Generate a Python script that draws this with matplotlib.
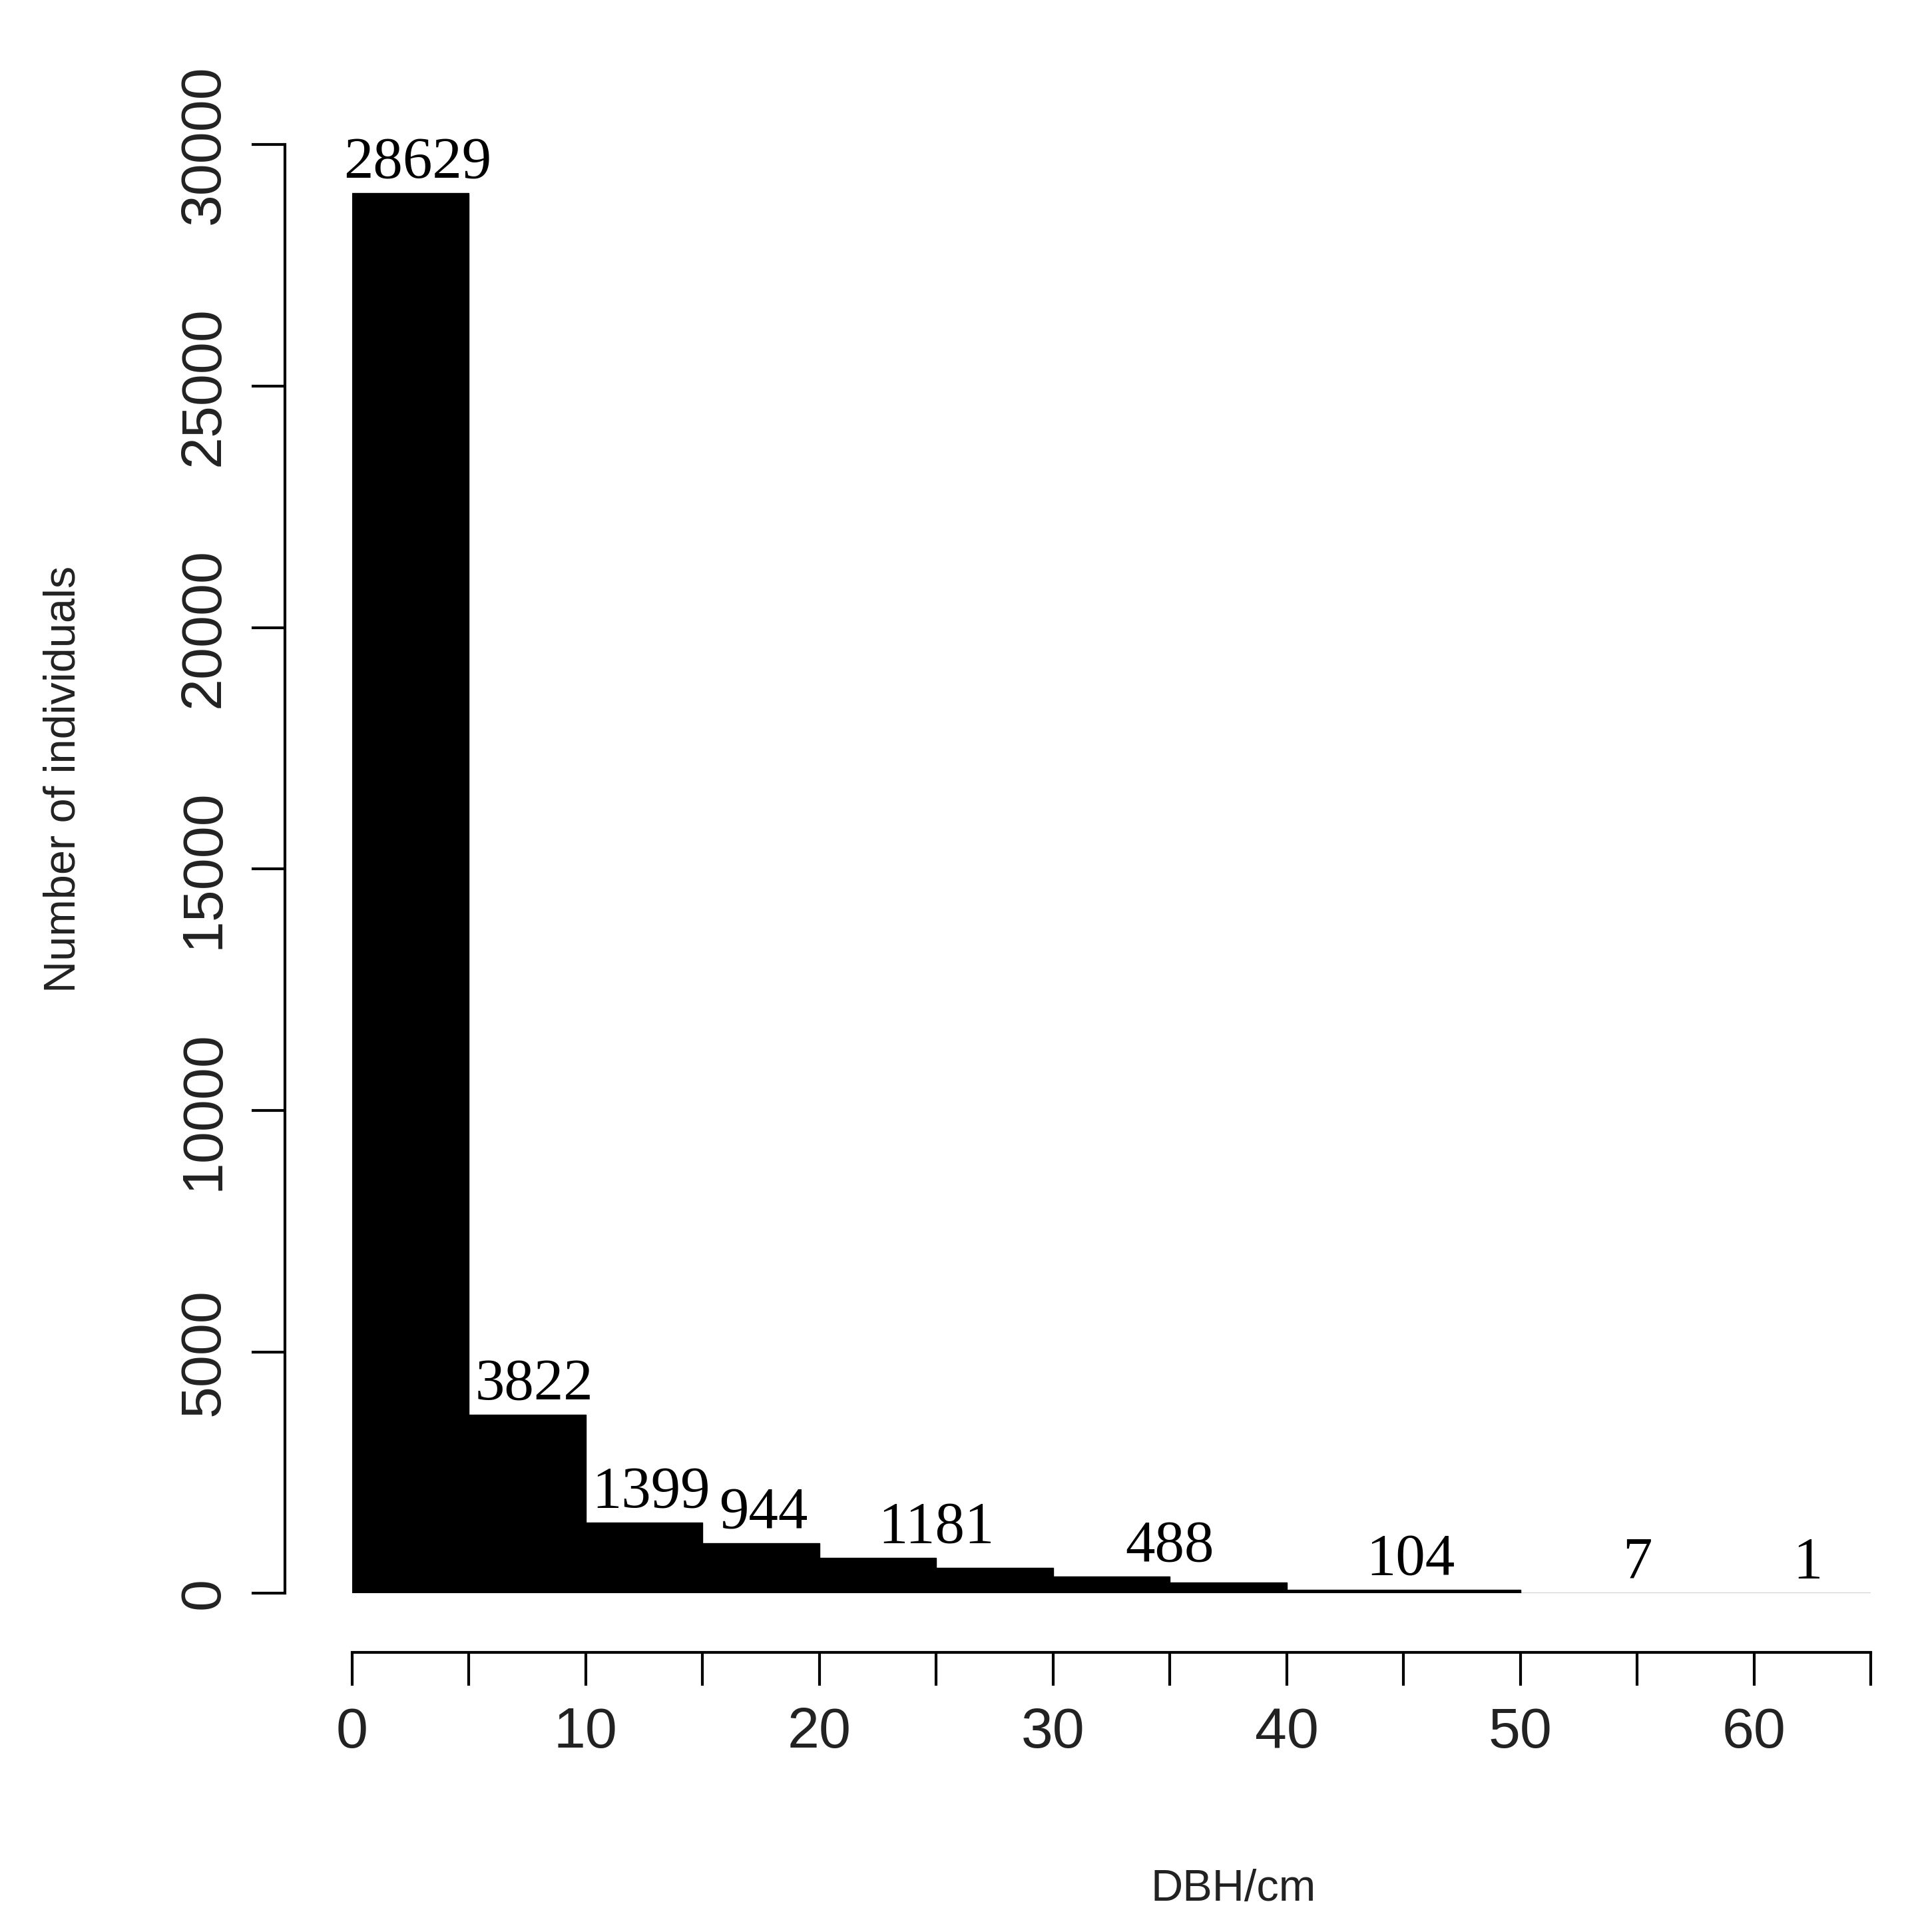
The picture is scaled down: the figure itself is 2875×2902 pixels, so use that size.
import matplotlib
matplotlib.use("Agg")
import matplotlib.pyplot as plt
import numpy as np

bin_edges = [0, 5, 10, 15, 20, 25, 30, 35, 40, 45, 50, 55, 60, 65]
heights = [29000, 3700, 1470, 1040, 740, 530, 355, 230, 80, 75, 10, 5, 3]
label_texts = ["28629", "3822", "1399", "944", "1181", "488", "104", "7", "1"]
label_x = [2.8, 7.8, 12.8, 17.6, 25.0, 35.0, 45.3, 55.0, 62.3]
label_y = [29000, 3700, 1470, 1040, 740, 355, 75, 5, 3]

W, H = 2875, 2902
fig = plt.figure(figsize=(W/100, H/100), dpi=100)
ax = fig.add_axes([287/1560, 1-1299/1575, (1525-287)/1560, (1299-118)/1575])
ax.bar(bin_edges[:-1], heights, width=np.diff(bin_edges), align='edge', color='black', edgecolor='black', linewidth=1)
for t, x, y in zip(label_texts, label_x, label_y):
    ax.text(x, y + 60, t, ha='center', va='bottom', family='Liberation Serif', fontsize=64)
ax.set_xlim(0, 65)
ax.set_ylim(0, 30000)
for s in ['top', 'right']:
    ax.spines[s].set_visible(False)
ax.spines['left'].set_position(('outward', 73))
ax.spines['bottom'].set_position(('outward', 64))
ax.spines['left'].set_bounds(0, 30000)
ax.spines['bottom'].set_bounds(0, 65)
for s in ['left', 'bottom']:
    ax.spines[s].set_linewidth(3)
ax.set_xticks(range(0, 66, 5))
ax.set_xticklabels(['0', '', '10', '', '20', '', '30', '', '40', '', '50', '', '60', ''])
ax.set_yticks(range(0, 30001, 5000))
ax.set_yticklabels([str(v) for v in range(0, 30001, 5000)], rotation=90, va='center')
ax.tick_params(axis='both', length=36, width=3, labelsize=62, pad=22)
for lab in ax.get_xticklabels() + ax.get_yticklabels():
    lab.set_family('Liberation Sans')
    lab.set_color('#222222')
fig.text(1005/1560, 1-1540/1575, 'DBH/cm', fontsize=48, family='Liberation Sans',
         ha='center', va='center', color='#222222')
fig.text(52/1560, 1-635/1575, 'Number of individuals', fontsize=48, family='Liberation Sans',
         ha='center', va='center', rotation=90, color='#222222')
fig.savefig('out.png', dpi=100)
